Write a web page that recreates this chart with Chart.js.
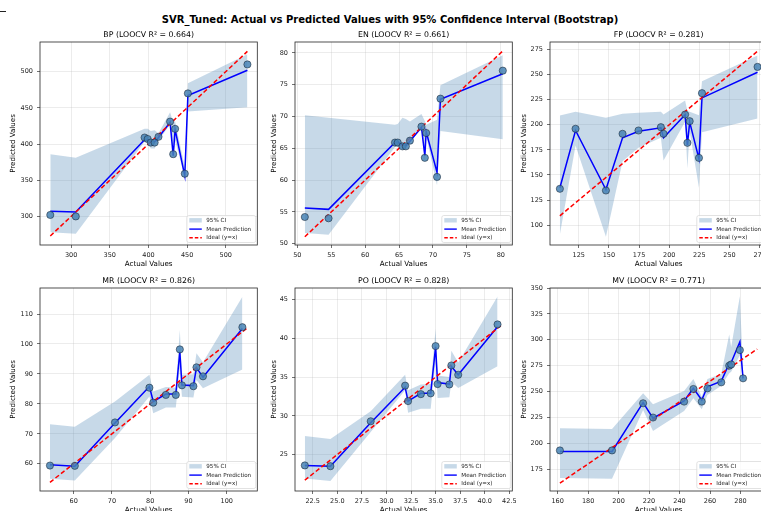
<!DOCTYPE html>
<html>
<head>
<meta charset="utf-8">
<script src="https://cdn.jsdelivr.net/npm/chart.js@4.4.0/dist/chart.umd.min.js"></script>
<style>
  body { margin: 0; background: #fff; }
  #fig { position: relative; width: 761px; height: 511px; overflow: hidden; background: #fff; font-family: "DejaVu Sans", sans-serif; }
  #suptitle { position: absolute; left: 0; top: 13px; width: 780px; text-align: center; font-weight: bold; font-size: 10px; line-height: 14px; color: #000; white-space: nowrap; }
  .mark { position: absolute; left: 0; top: 11px; width: 6px; height: 1px; background: #222; }
  canvas { position: absolute; }
</style>
</head>
<body>
<div id="fig">
  <div class="mark"></div>
  <div id="suptitle">SVR_Tuned: Actual vs Predicted Values with 95% Confidence Interval (Bootstrap)</div>
  <canvas id="c0" width="262" height="241" style="left:0px;top:28px"></canvas>
  <canvas id="c1" width="262" height="241" style="left:255px;top:28px"></canvas>
  <canvas id="c2" width="262" height="241" style="left:510px;top:28px"></canvas>
  <canvas id="c3" width="262" height="241" style="left:0px;top:274px"></canvas>
  <canvas id="c4" width="262" height="241" style="left:255px;top:274px"></canvas>
  <canvas id="c5" width="262" height="241" style="left:510px;top:274px"></canvas>
</div>
<script>
// BP
const bpActual = [273, 306, 395, 399, 403, 408, 413, 428, 432, 434.5, 447, 451, 528];
const bpPred   = [302, 300, 409, 407, 402, 402, 410, 431, 386, 421, 359, 470, 510];
const bpMean   = [307, 306, 406, 406, 403, 403, 409, 430, 384, 420, 356, 467, 502];
const bpLow    = [278, 276, 403, 402, 394, 394, 405, 427, 382, 405, 354, 445, 451];
const bpHigh   = [386, 381, 421, 421, 418, 419, 415, 444, 430, 431, 368, 484, 524];
const bpIdeal  = [273, 528];
const bpXTicks = [300, 350, 400, 450, 500];
const bpYTicks = [300, 350, 400, 450, 500];

// EN
const enActual = [51.1, 54.6, 64.4, 64.8, 65.5, 66.0, 66.6, 68.3, 68.8, 69.0, 70.6, 71.1, 80.3];
const enPred   = [54.2, 54.0, 65.9, 65.9, 65.3, 65.3, 66.2, 68.4, 63.5, 67.4, 60.5, 72.8, 77.2];
const enMean   = [55.6, 55.4, 65.9, 66.0, 65.5, 65.4, 66.1, 68.3, 63.8, 67.6, 61.2, 72.7, 76.7];
const enLow    = [51.7, 51.4, 65.2, 65.2, 64.8, 64.8, 65.9, 68.1, 63.0, 66.9, 59.2, 67.7, 66.4];
const enHigh   = [70.2, 69.8, 68.7, 68.8, 69.8, 69.6, 69.2, 70.4, 69.3, 68.7, 69.5, 74.9, 79.6];
const enIdeal  = [51.1, 80.3];
const enXTicks = [50, 55, 60, 65, 70, 75, 80];
const enYTicks = [50, 55, 60, 65, 70, 75, 80];

// FP
const fpActual = [109.3, 122.3, 147.5, 161.3, 174.5, 193.1, 195.3, 213.2, 215.1, 217.0, 224.7, 227.2, 273.3];
const fpPred   = [136.2, 196, 134.5, 191, 194.3, 197.6, 191, 210.2, 182, 203.6, 167, 231.5, 257.7];
const fpMean   = [137.2, 194.3, 135.5, 187, 193.6, 197, 187, 210, 180, 202.6, 166, 226.8, 252.4];
const fpLow    = [90.7, 179.4, 88.4, 163.7, 177, 187, 164.4, 203, 156.4, 193.6, 137.2, 192.6, 206.3];
const fpHigh   = [209.2, 212.9, 206.9, 210.9, 211.9, 212.9, 210.2, 224.2, 213.6, 213, 209.6, 243.5, 269];
const fpIdeal  = [109.3, 273.3];
const fpXTicks = [125, 150, 175, 200, 225, 250, 275];
const fpYTicks = [100, 125, 150, 175, 200, 225, 250, 275];

// MR
const mrActual = [53.8, 60.3, 70.8, 79.8, 80.8, 84.1, 86.7, 87.75, 88.3, 91.3, 92.1, 93.8, 104.1];
const mrPred   = [59.4, 59.3, 73.8, 85.4, 80.4, 83, 83, 98.2, 86.2, 85.9, 92.2, 89.2, 105.6];
const mrMean   = [59.7, 59.2, 73.6, 85.8, 80.8, 83.3, 83.3, 97.4, 86.3, 86.1, 92.1, 88.9, 105.2];
const mrLow    = [55, 54.4, 68.6, 82.5, 76.9, 78.8, 78.8, 91.9, 82.4, 82.1, 88, 85.2, 91.5];
const mrHigh   = [73.2, 72.4, 80.8, 89.7, 84.1, 85.6, 85.4, 104.7, 89.7, 89.9, 96.9, 93.9, 115.8];
const mrIdeal  = [53.8, 105.6];
const mrXTicks = [60, 70, 80, 90, 100];
const mrYTicks = [60, 70, 80, 90, 100, 110];

// PO
const poActual = [21.7, 24.3, 28.4, 31.9, 32.2, 33.5, 34.5, 35.0, 35.2, 36.4, 36.6, 37.3, 41.3];
const poPred   = [23.6, 23.5, 29.3, 33.9, 31.9, 32.8, 32.9, 39.0, 34.1, 34.05, 36.5, 35.3, 41.8];
const poMean   = [23.6, 23.5, 29.1, 33.7, 31.9, 32.9, 32.9, 38.9, 34.3, 34.1, 36.4, 35.3, 41.5];
const poLow    = [21.9, 21.6, 27.9, 33.3, 30.4, 30.9, 30.9, 37.2, 32.3, 32.4, 34.4, 33.6, 36.4];
const poHigh   = [27.4, 27.0, 30.6, 35.3, 33.3, 34.05, 34.1, 41.25, 35.2, 35.0, 38.4, 36.9, 45.4];
const poIdeal  = [21.7, 41.8];
const poXTicks = [22.5, 25, 27.5, 30, 32.5, 35, 37.5, 40, 42.5];
const poYTicks = [25, 30, 35, 40, 45];

// MV
const mvActual = [161.5, 195.7, 216.1, 222.6, 243, 249.1, 254.6, 258.3, 267.4, 272.6, 273.9, 279.6, 281.7];
const mvPred   = [193, 193, 238.6, 224.8, 240.2, 252.4, 240.2, 253, 258.8, 274.9, 276.1, 290, 262.7];
const mvMean   = [192, 192, 239.2, 224.1, 240.8, 253, 241.8, 254.6, 260, 277.1, 278, 298, 262.7];
const mvLow    = [166.3, 165.7, 232.1, 211.9, 231.2, 243.4, 232.8, 246.6, 255.6, 267.5, 269, 285.1, 257.8];
const mvHigh   = [214.5, 213.8, 248.2, 237.6, 250.4, 262, 245, 262, 266.8, 305, 293, 342, 269];
const mvIdeal  = [161.5, 291];
const mvXTicks = [160, 180, 200, 220, 240, 260, 280];
const mvYTicks = [175, 200, 225, 250, 275, 300, 325, 350];

const panels = [
  { id: "c0", name: "BP", r2: "0.664", actual: bpActual, pred: bpPred, mean: bpMean, low: bpLow, high: bpHigh, ideal: bpIdeal,
    xTicks: bpXTicks, yTicks: bpYTicks, xRange: [259.7, 540.8], yRange: [260.5, 541], dec: 0, ytPad: 9 },
  { id: "c1", name: "EN", r2: "0.661", actual: enActual, pred: enPred, mean: enMean, low: enLow, high: enHigh, ideal: enIdeal,
    xTicks: enXTicks, yTicks: enYTicks, xRange: [49.65, 81.7], yRange: [49.8, 81.7], dec: 0, ytPad: 14.7 },
  { id: "c2", name: "FP", r2: "0.281", actual: fpActual, pred: fpPred, mean: fpMean, low: fpLow, high: fpHigh, ideal: fpIdeal,
    xTicks: fpXTicks, yTicks: fpYTicks, xRange: [101.1, 281.4], yRange: [80.2, 282.5], dec: 0, ytPad: 9.7 },
  { id: "c3", name: "MR", r2: "0.826", actual: mrActual, pred: mrPred, mean: mrMean, low: mrLow, high: mrHigh, ideal: mrIdeal,
    xTicks: mrXTicks, yTicks: mrYTicks, xRange: [51.2, 108], yRange: [50.9, 118.7], dec: 0, ytPad: 9 },
  { id: "c4", name: "PO", r2: "0.828", actual: poActual, pred: poPred, mean: poMean, low: poLow, high: poHigh, ideal: poIdeal,
    xTicks: poXTicks, yTicks: poYTicks, xRange: [20.7, 42.8], yRange: [20.3, 46.5], dec: 1, ytPad: 14.7, yDec: 0 },
  { id: "c5", name: "MV", r2: "0.771", actual: mvActual, pred: mvPred, mean: mvMean, low: mvLow, high: mvHigh, ideal: mvIdeal,
    xTicks: mvXTicks, yTicks: mvYTicks, xRange: [155, 297.6], yRange: [153.8, 350], dec: 0, ytPad: 9.7 }
];

const FONT = "'DejaVu Sans', sans-serif";
const GRID = "rgba(176,176,176,0.35)";
const BAND = "rgba(70,130,180,0.3)";

// frame around the axes + matplotlib-style legend in the lower right corner
const framePlugin = {
  id: "frame",
  afterDraw(chart) {
    const { ctx, chartArea: a } = chart;
    ctx.save();
    ctx.strokeStyle = "#262626";
    ctx.lineWidth = 0.8;
    ctx.strokeRect(a.left, a.top, a.right - a.left, a.bottom - a.top);

    const w = 69, h = 27;
    const x0 = a.right - 1.5 - w, y0 = a.bottom - 2.5 - h;
    ctx.fillStyle = "rgba(255,255,255,0.8)";
    ctx.strokeStyle = "#d6d6d6";
    ctx.lineWidth = 0.7;
    ctx.beginPath();
    ctx.roundRect(x0, y0, w, h, 2);
    ctx.fill();
    ctx.stroke();

    const rows = [y0 + 4.8, y0 + 13.6, y0 + 22.3];
    const hx = x0 + 2.5, hw = 12.5;
    ctx.fillStyle = BAND;
    ctx.fillRect(hx, rows[0] - 2.2, hw, 4.4);
    ctx.lineWidth = 1.4;
    ctx.strokeStyle = "#0000ff";
    ctx.beginPath(); ctx.moveTo(hx, rows[1]); ctx.lineTo(hx + hw, rows[1]); ctx.stroke();
    ctx.strokeStyle = "#ff0000";
    ctx.setLineDash([3.5, 2]);
    ctx.beginPath(); ctx.moveTo(hx, rows[2]); ctx.lineTo(hx + hw, rows[2]); ctx.stroke();
    ctx.setLineDash([]);

    ctx.fillStyle = "#222";
    ctx.font = "5.6px " + FONT;
    ctx.textBaseline = "middle";
    ctx.textAlign = "left";
    ["95% CI", "Mean Prediction", "Ideal (y=x)"].forEach((t, i) => ctx.fillText(t, x0 + 19.5, rows[i]));
    ctx.restore();
  }
};

function pts(xs, ys) {
  return xs.map((x, i) => ({ x: x, y: ys[i] }));
}

panels.forEach(p => {
  const yDec = p.yDec !== undefined ? p.yDec : p.dec;
  new Chart(document.getElementById(p.id), {
    type: "line",
    data: {
      datasets: [
        { data: pts(p.actual, p.pred), showLine: false, pointRadius: 3.6,
          pointBackgroundColor: "rgba(70,130,180,0.85)", pointBorderColor: "rgba(20,30,45,0.75)", pointBorderWidth: 0.7 },
        { data: pts(p.ideal, p.ideal), borderColor: "#ff0000", borderWidth: 1.5, borderDash: [4.5, 2.5], pointRadius: 0 },
        { data: pts(p.actual, p.mean), borderColor: "#0000ff", borderWidth: 1.5, pointRadius: 0 },
        { data: pts(p.actual, p.high), borderColor: "transparent", borderWidth: 0, pointRadius: 0, fill: "+1", backgroundColor: BAND },
        { data: pts(p.actual, p.low), borderColor: "transparent", borderWidth: 0, pointRadius: 0 }
      ]
    },
    options: {
      responsive: false,
      animation: false,
      events: [],
      layout: { padding: { left: 0, right: 4, top: 0, bottom: 0 } },
      plugins: {
        legend: { display: false },
        tooltip: { enabled: false },
        title: {
          display: true,
          fullSize: false,
          text: p.name + " (LOOCV R\u00b2 = " + p.r2 + ")",
          color: "#000",
          font: { family: FONT, size: 7.8, weight: "normal" },
          padding: { top: 1.8, bottom: 2.84 }
        }
      },
      scales: {
        x: {
          type: "linear",
          min: p.xRange[0],
          max: p.xRange[1],
          afterBuildTicks: s => { s.ticks = p.xTicks.map(v => ({ value: v })); },
          afterFit: s => { s.height = 24; s.paddingLeft = 0; s.paddingRight = 0; },
          grid: { color: GRID, lineWidth: 0.7, tickColor: "#333", tickLength: 3 },
          border: { display: false },
          ticks: {
            font: { family: FONT, size: 6.5 }, color: "#222", padding: 3,
            maxRotation: 0, autoSkip: false,
            callback: v => Number(v).toFixed(p.dec)
          },
          title: { display: true, text: "Actual Values", color: "#000",
            font: { family: FONT, size: 7.1 }, padding: { top: 0, bottom: 1 } }
        },
        y: {
          type: "linear",
          min: p.yRange[0],
          max: p.yRange[1],
          afterBuildTicks: s => { s.ticks = p.yTicks.map(v => ({ value: v })); },
          afterFit: s => { s.width = 40; s.paddingTop = 0; s.paddingBottom = 0; },
          grid: { color: GRID, lineWidth: 0.7, tickColor: "#333", tickLength: 3 },
          border: { display: false },
          ticks: {
            font: { family: FONT, size: 6.5 }, color: "#222", padding: 4,
            autoSkip: false,
            callback: v => Number(v).toFixed(yDec)
          },
          title: { display: true, text: "Predicted Values", color: "#000",
            font: { family: FONT, size: 7.1 }, padding: { top: p.ytPad, bottom: 0 } }
        }
      }
    },
    plugins: [framePlugin]
  });
});
</script>
</body>
</html>
